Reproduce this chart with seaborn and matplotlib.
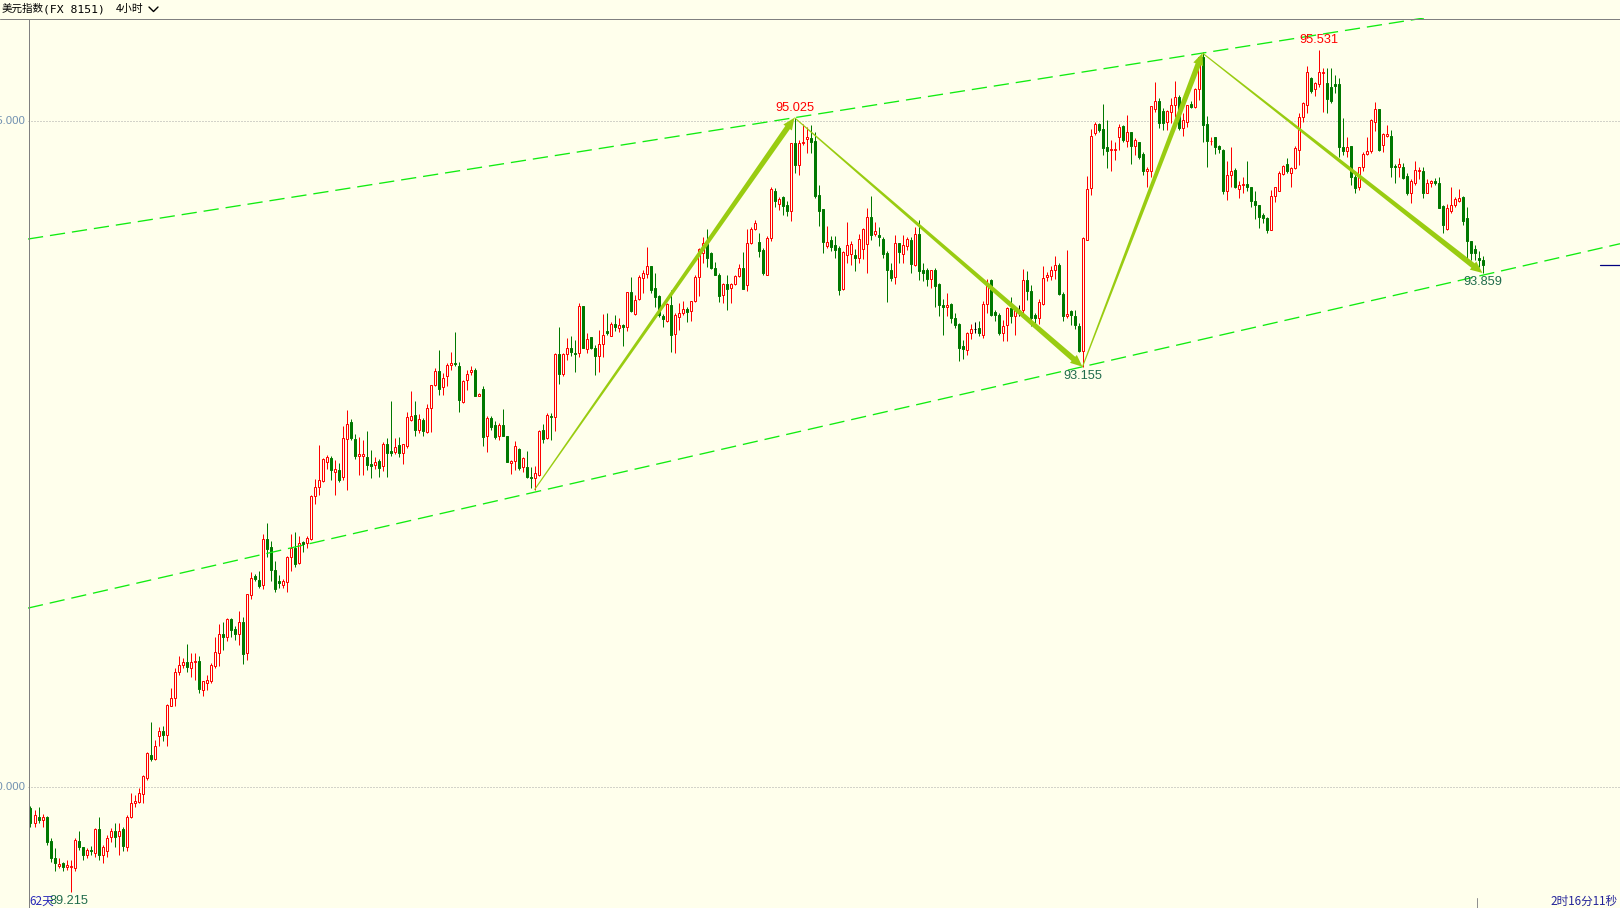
import matplotlib
matplotlib.use('Agg')
import matplotlib.pyplot as plt
import seaborn as sns

# 4-hour candles of the dollar index (oldest first)
opens = [
    89.840, 89.730, 89.778, 89.753, 89.773, 89.598, 89.470, 89.410, 89.430, 89.400,
    89.400, 89.390, 89.595, 89.548, 89.490, 89.528, 89.503, 89.686, 89.490, 89.523,
    89.628, 89.670, 89.633, 89.686, 89.548, 89.778, 89.883, 89.890, 89.948, 90.068,
    90.243, 90.213, 90.381, 90.418, 90.388, 90.611, 90.668, 90.861, 90.913, 90.938,
    90.893, 90.936, 90.943, 90.731, 90.781, 90.798, 90.911, 91.006, 91.151, 91.123,
    91.261, 91.188, 91.151, 91.238, 91.006, 91.443, 91.586, 91.551, 91.513, 91.861,
    91.801, 91.631, 91.543, 91.513, 91.538, 91.726, 91.793, 91.681, 91.838, 91.831,
    91.863, 92.181, 92.251, 92.301, 92.443, 92.468, 92.368, 92.381, 92.331, 92.611,
    92.738, 92.611, 92.486, 92.486, 92.476, 92.426, 92.421, 92.448, 92.413, 92.576,
    92.523, 92.518, 92.568, 92.506, 92.563, 92.756, 92.793, 92.681, 92.757, 92.664,
    92.844, 93.019, 93.124, 93.002, 93.082, 93.167, 93.182, 93.162, 92.887, 93.057,
    93.114, 93.132, 92.939, 92.989, 92.632, 92.772, 92.719, 92.632, 92.719, 92.637,
    92.432, 92.444, 92.539, 92.399, 92.402, 92.327, 92.319, 92.344, 92.682, 92.619,
    92.789, 92.777, 93.252, 93.102, 93.252, 93.294, 93.262, 93.262, 93.612, 93.289,
    93.377, 93.294, 93.232, 93.324, 93.424, 93.389, 93.477, 93.444, 93.469, 93.452,
    93.714, 93.552, 93.667, 93.819, 93.852, 93.912, 93.744, 93.687, 93.537, 93.502,
    93.619, 93.399, 93.527, 93.557, 93.592, 93.572, 93.649, 93.827, 94.007, 94.074,
    94.007, 93.894, 93.844, 93.694, 93.777, 93.744, 93.774, 93.837, 93.894, 93.769,
    94.082, 94.187, 94.089, 94.033, 93.841, 94.121, 94.471, 94.378, 94.428, 94.371,
    94.321, 94.833, 94.666, 94.833, 94.866, 94.876, 94.853, 94.446, 94.338, 94.058,
    94.103, 94.071, 94.046, 93.741, 93.996, 94.003, 93.996, 93.971, 94.041, 94.078,
    94.278, 94.153, 94.141, 94.113, 94.008, 93.883, 93.826, 94.083, 94.003, 94.063,
    94.108, 93.916, 94.151, 93.878, 93.878, 93.816, 93.883, 93.776, 93.616, 93.603,
    93.628, 93.521, 93.478, 93.308, 93.278, 93.408, 93.438, 93.443, 93.396, 93.628,
    93.808, 93.566, 93.546, 93.408, 93.471, 93.596, 93.533, 93.578, 93.578, 93.808,
    93.726, 93.546, 93.521, 93.628, 93.826, 93.833, 93.878, 93.921, 93.703, 93.533,
    93.571, 93.538, 93.463, 93.271, 94.108, 94.496, 94.908, 94.978, 94.938, 94.803,
    94.783, 94.783, 94.878, 94.963, 94.851, 94.916, 94.816, 94.841, 94.753, 94.621,
    94.621, 95.088, 95.151, 95.076, 94.991, 95.071, 95.121, 95.178, 94.946, 94.996,
    95.126, 95.108, 95.241, 95.478, 94.976, 94.848, 94.878, 94.813, 94.783, 94.471,
    94.596, 94.633, 94.488, 94.516, 94.528, 94.501, 94.403, 94.371, 94.296, 94.271,
    94.183, 94.438, 94.478, 94.601, 94.678, 94.613, 94.646, 94.783, 95.028, 95.121,
    95.326, 95.238, 95.278, 95.358, 95.283, 95.258, 95.278, 95.278, 94.803, 94.778,
    94.813, 94.583, 94.508, 94.651, 94.753, 94.778, 94.996, 95.091, 94.821, 94.888,
    94.891, 94.663, 94.658, 94.658, 94.588, 94.458, 94.533, 94.621, 94.628, 94.463,
    94.533, 94.551, 94.538, 94.363, 94.188, 94.328, 94.371, 94.396, 94.433, 94.271,
    94.096, 94.038, 93.971, 93.958,
]
highs = [
    89.860, 89.830, 89.853, 89.800, 89.780, 89.616, 89.540, 89.466, 89.440, 89.450,
    89.450, 89.620, 89.670, 89.553, 89.540, 89.558, 89.690, 89.773, 89.566, 89.640,
    89.690, 89.728, 89.728, 89.700, 89.790, 89.953, 89.940, 89.990, 90.090, 90.260,
    90.486, 90.351, 90.450, 90.456, 90.620, 90.743, 90.893, 90.986, 90.968, 91.076,
    91.006, 91.006, 90.981, 90.793, 90.843, 90.931, 91.126, 91.226, 91.238, 91.268,
    91.268, 91.211, 91.323, 91.278, 91.448, 91.613, 91.601, 91.623, 91.901, 91.981,
    91.846, 91.696, 91.593, 91.563, 91.736, 91.901, 91.913, 91.886, 91.848, 91.881,
    92.193, 92.311, 92.568, 92.468, 92.493, 92.488, 92.456, 92.431, 92.713, 92.831,
    92.763, 92.651, 92.631, 92.606, 92.673, 92.531, 92.476, 92.461, 92.593, 92.618,
    92.898, 92.618, 92.631, 92.576, 92.813, 92.973, 92.898, 92.798, 92.769, 92.877,
    93.019, 93.144, 93.282, 93.107, 93.182, 93.264, 93.417, 93.194, 93.057, 93.132,
    93.164, 93.144, 92.957, 93.007, 92.782, 92.782, 92.749, 92.732, 92.839, 92.637,
    92.457, 92.594, 92.544, 92.477, 92.524, 92.399, 92.407, 92.682, 92.727, 92.807,
    92.807, 93.257, 93.457, 93.257, 93.369, 93.387, 93.357, 93.632, 93.612, 93.407,
    93.377, 93.319, 93.432, 93.552, 93.557, 93.494, 93.544, 93.519, 93.477, 93.719,
    93.832, 93.694, 93.844, 93.882, 94.057, 93.912, 93.862, 93.694, 93.552, 93.632,
    93.732, 93.562, 93.632, 93.649, 93.602, 93.649, 93.844, 94.044, 94.127, 94.187,
    94.014, 93.944, 93.857, 93.787, 93.844, 93.782, 93.844, 93.927, 94.014, 94.187,
    94.202, 94.257, 94.157, 94.046, 94.138, 94.503, 94.496, 94.433, 94.438, 94.403,
    94.838, 95.025, 94.858, 94.978, 94.958, 94.971, 94.921, 94.521, 94.338, 94.208,
    94.138, 94.133, 94.058, 94.021, 94.241, 94.096, 94.041, 94.153, 94.196, 94.346,
    94.438, 94.241, 94.201, 94.128, 94.021, 93.933, 94.146, 94.083, 94.146, 94.126,
    94.128, 94.201, 94.258, 93.933, 93.896, 93.883, 93.896, 93.783, 93.663, 93.708,
    93.633, 93.558, 93.483, 93.353, 93.413, 93.478, 93.491, 93.501, 93.651, 93.816,
    93.813, 93.578, 93.558, 93.503, 93.603, 93.678, 93.603, 93.621, 93.888, 93.871,
    93.771, 93.558, 93.666, 93.908, 93.866, 93.913, 93.983, 93.933, 93.713, 94.033,
    93.578, 93.583, 93.483, 94.126, 94.588, 94.938, 94.996, 94.988, 95.128, 95.008,
    94.858, 94.846, 94.978, 94.971, 95.046, 94.921, 94.876, 94.846, 94.766, 94.658,
    95.113, 95.291, 95.176, 95.096, 95.083, 95.171, 95.303, 95.196, 95.058, 95.121,
    95.151, 95.251, 95.483, 95.521, 95.038, 94.883, 94.883, 94.821, 94.788, 94.696,
    94.803, 94.646, 94.546, 94.578, 94.696, 94.508, 94.471, 94.371, 94.313, 94.276,
    94.483, 94.508, 94.621, 94.671, 94.721, 94.658, 94.813, 95.058, 95.146, 95.413,
    95.333, 95.296, 95.531, 95.396, 95.396, 95.396, 95.346, 95.321, 95.021, 94.883,
    94.813, 94.621, 94.658, 94.771, 94.878, 95.013, 95.146, 95.091, 94.908, 94.971,
    94.933, 94.678, 94.721, 94.688, 94.608, 94.563, 94.703, 94.658, 94.658, 94.563,
    94.558, 94.571, 94.583, 94.371, 94.378, 94.508, 94.433, 94.488, 94.438, 94.358,
    94.101, 94.066, 94.021, 93.983,
]
lows = [
    89.700, 89.700, 89.728, 89.700, 89.566, 89.440, 89.366, 89.390, 89.370, 89.380,
    89.215, 89.370, 89.530, 89.453, 89.466, 89.490, 89.473, 89.453, 89.428, 89.478,
    89.590, 89.553, 89.490, 89.516, 89.516, 89.766, 89.853, 89.878, 89.878, 90.056,
    90.193, 90.206, 90.306, 90.343, 90.306, 90.606, 90.611, 90.843, 90.891, 90.866,
    90.823, 90.806, 90.706, 90.686, 90.731, 90.781, 90.891, 90.911, 91.026, 91.093,
    91.126, 91.101, 91.063, 90.926, 90.951, 91.411, 91.543, 91.493, 91.488, 91.726,
    91.548, 91.466, 91.493, 91.493, 91.461, 91.618, 91.648, 91.676, 91.768, 91.793,
    91.851, 92.126, 92.193, 92.293, 92.386, 92.306, 92.193, 92.293, 92.306, 92.226,
    92.606, 92.463, 92.343, 92.343, 92.381, 92.323, 92.386, 92.331, 92.376, 92.331,
    92.486, 92.501, 92.481, 92.426, 92.548, 92.751, 92.636, 92.661, 92.632, 92.657,
    92.662, 93.014, 92.944, 92.944, 93.014, 93.132, 93.157, 92.819, 92.882, 92.982,
    93.094, 92.932, 92.932, 92.557, 92.514, 92.682, 92.614, 92.607, 92.632, 92.439,
    92.352, 92.382, 92.382, 92.364, 92.319, 92.244, 92.232, 92.337, 92.582, 92.614,
    92.607, 92.669, 93.024, 93.082, 93.207, 93.237, 93.112, 93.227, 93.294, 93.257,
    93.289, 93.094, 93.119, 93.227, 93.394, 93.387, 93.424, 93.419, 93.314, 93.427,
    93.569, 93.544, 93.657, 93.707, 93.819, 93.707, 93.607, 93.532, 93.452, 93.494,
    93.269, 93.262, 93.432, 93.544, 93.494, 93.502, 93.644, 93.687, 93.932, 93.907,
    93.887, 93.844, 93.644, 93.637, 93.582, 93.632, 93.769, 93.832, 93.739, 93.727,
    94.077, 94.182, 93.982, 93.846, 93.841, 94.096, 94.358, 94.333, 94.296, 94.288,
    94.253, 94.608, 94.591, 94.821, 94.758, 94.758, 94.421, 94.208, 94.008, 94.046,
    94.021, 93.971, 93.696, 93.733, 93.933, 93.921, 93.871, 93.933, 93.963, 93.858,
    94.108, 94.133, 94.058, 93.971, 93.641, 93.796, 93.776, 93.933, 93.933, 94.033,
    93.858, 93.908, 93.808, 93.796, 93.758, 93.746, 93.603, 93.533, 93.396, 93.533,
    93.483, 93.446, 93.196, 93.213, 93.246, 93.366, 93.408, 93.388, 93.371, 93.558,
    93.533, 93.496, 93.391, 93.346, 93.346, 93.483, 93.396, 93.533, 93.546, 93.658,
    93.458, 93.483, 93.478, 93.621, 93.796, 93.808, 93.813, 93.696, 93.496, 93.521,
    93.471, 93.438, 93.266, 93.155, 94.108, 94.446, 94.896, 94.921, 94.741, 94.646,
    94.628, 94.708, 94.783, 94.846, 94.808, 94.678, 94.746, 94.716, 94.596, 94.508,
    94.578, 95.071, 94.946, 94.933, 94.933, 94.983, 95.028, 94.933, 94.891, 94.953,
    95.101, 95.096, 95.158, 94.846, 94.651, 94.821, 94.751, 94.763, 94.453, 94.408,
    94.508, 94.496, 94.421, 94.458, 94.471, 94.358, 94.266, 94.196, 94.233, 94.158,
    94.183, 94.391, 94.476, 94.596, 94.613, 94.508, 94.641, 94.671, 94.996, 95.063,
    95.208, 95.191, 95.258, 95.071, 95.063, 95.133, 95.208, 94.733, 94.746, 94.733,
    94.521, 94.458, 94.483, 94.621, 94.746, 94.758, 94.928, 94.776, 94.771, 94.883,
    94.583, 94.538, 94.578, 94.563, 94.446, 94.383, 94.521, 94.563, 94.421, 94.458,
    94.508, 94.521, 94.346, 94.158, 94.183, 94.308, 94.358, 94.391, 94.221, 93.946,
    93.958, 93.953, 93.903, 93.859,
]
closes = [
    89.730, 89.790, 89.753, 89.778, 89.590, 89.466, 89.428, 89.420, 89.400, 89.415,
    89.410, 89.600, 89.548, 89.490, 89.528, 89.516, 89.686, 89.490, 89.548, 89.616,
    89.673, 89.623, 89.673, 89.558, 89.778, 89.878, 89.895, 89.953, 90.083, 90.256,
    90.213, 90.311, 90.418, 90.393, 90.618, 90.668, 90.863, 90.918, 90.938, 90.901,
    90.938, 90.948, 90.738, 90.793, 90.806, 90.918, 91.013, 91.151, 91.123, 91.261,
    91.176, 91.148, 91.238, 91.001, 91.448, 91.568, 91.561, 91.506, 91.861, 91.788,
    91.626, 91.488, 91.531, 91.543, 91.726, 91.793, 91.676, 91.831, 91.823, 91.868,
    92.186, 92.251, 92.306, 92.461, 92.476, 92.381, 92.388, 92.306, 92.618, 92.726,
    92.618, 92.488, 92.501, 92.501, 92.421, 92.411, 92.441, 92.398, 92.573, 92.511,
    92.506, 92.551, 92.506, 92.573, 92.776, 92.786, 92.681, 92.763, 92.669, 92.844,
    93.019, 93.124, 92.987, 93.069, 93.169, 93.182, 93.172, 92.902, 93.047, 93.099,
    93.132, 92.939, 92.952, 92.627, 92.769, 92.702, 92.627, 92.719, 92.637, 92.439,
    92.447, 92.557, 92.394, 92.469, 92.327, 92.319, 92.357, 92.669, 92.614, 92.794,
    92.777, 93.252, 93.102, 93.252, 93.294, 93.269, 93.252, 93.612, 93.299, 93.364,
    93.294, 93.239, 93.324, 93.394, 93.407, 93.477, 93.452, 93.467, 93.452, 93.714,
    93.577, 93.657, 93.832, 93.857, 93.912, 93.732, 93.682, 93.544, 93.517, 93.624,
    93.394, 93.544, 93.562, 93.587, 93.569, 93.649, 93.832, 94.037, 94.082, 93.969,
    93.894, 93.844, 93.689, 93.777, 93.739, 93.777, 93.837, 93.894, 93.739, 94.082,
    94.187, 94.237, 94.027, 93.858, 94.121, 94.491, 94.396, 94.413, 94.363, 94.328,
    94.833, 94.666, 94.838, 94.846, 94.878, 94.846, 94.438, 94.328, 94.088, 94.088,
    94.051, 94.028, 93.728, 94.016, 94.066, 94.076, 93.971, 94.113, 94.191, 94.278,
    94.146, 94.176, 94.128, 93.998, 93.883, 93.821, 94.083, 94.013, 94.066, 94.113,
    93.928, 94.151, 93.871, 93.858, 93.816, 93.878, 93.758, 93.616, 93.603, 93.621,
    93.521, 93.471, 93.296, 93.288, 93.408, 93.441, 93.438, 93.408, 93.628, 93.766,
    93.546, 93.546, 93.408, 93.463, 93.596, 93.533, 93.578, 93.578, 93.808, 93.726,
    93.521, 93.521, 93.641, 93.821, 93.841, 93.878, 93.921, 93.701, 93.533, 93.553,
    93.546, 93.471, 93.271, 94.121, 94.488, 94.891, 94.976, 94.933, 94.801, 94.778,
    94.788, 94.788, 94.958, 94.858, 94.916, 94.813, 94.858, 94.733, 94.621, 94.638,
    95.113, 95.151, 94.983, 94.983, 95.076, 95.118, 95.178, 94.946, 95.008, 95.118,
    95.108, 95.238, 95.478, 94.971, 94.853, 94.853, 94.803, 94.788, 94.471, 94.596,
    94.621, 94.508, 94.521, 94.526, 94.501, 94.403, 94.366, 94.278, 94.271, 94.183,
    94.438, 94.503, 94.613, 94.663, 94.628, 94.648, 94.801, 95.033, 95.133, 95.366,
    95.226, 95.283, 95.366, 95.371, 95.163, 95.153, 95.266, 94.803, 94.778, 94.803,
    94.583, 94.496, 94.651, 94.753, 94.778, 95.008, 95.091, 94.783, 94.901, 94.901,
    94.658, 94.651, 94.676, 94.571, 94.458, 94.546, 94.633, 94.633, 94.463, 94.538,
    94.546, 94.538, 94.346, 94.221, 94.346, 94.371, 94.413, 94.421, 94.253, 94.096,
    94.008, 94.008, 93.953, 93.916,
]

# swing points joined by the arrows: (bar, price)
swing_bars = [126, 191, 263, 293, 363]
swing_prices = [92.232, 95.025, 93.155, 95.510, 93.859]

# channel lines, two anchor points each
upper_anchor = [(191, 95.025), (293, 95.51)]
lower_anchor = [(125.5, 92.21), (263, 93.155)]

# labelled extremes
high_marks = [191, 322]
low_marks = [10, 263, 363]

BG = '#FFFFEC'
RED = '#FF0000'
GREEN = '#007800'
W, H = 1620, 908
PX0, PXW = 30.5, 4.0      # pixel x of bar 0, pixel step per bar
PY95, PYS = 121.0, 133.2  # pixel y of 95.000, pixels per index point

sns.set_theme(style='white')
plt.rcParams['font.family'] = ['Noto Sans CJK SC', 'DejaVu Sans']
plt.rcParams['lines.scale_dashes'] = False


def px(i, p):
    return PX0 + PXW * i, PY95 + (95 - p) * PYS


def to_data(x, y):
    return (x - PX0) / PXW, 95 - (y - PY95) / PYS


def ftext(x, y, s, **kw):
    fig.text(x / W, 1 - y / H, s, **kw)


def fline(xs, ys, **kw):
    fig.add_artist(plt.Line2D([x / W for x in xs], [1 - y / H for y in ys], **kw))


fig = plt.figure(figsize=(W / 100, H / 100), dpi=100, facecolor=BG)
ax = fig.add_axes([28 / W, 0, 1 - 28 / W, 1 - 18 / H])
ax.set_facecolor(BG)
ax.set_xlim(to_data(28, 0)[0], to_data(W, 0)[0])
ax.set_ylim(to_data(0, H)[1], to_data(0, 18)[1])
ax.axis('off')

# dotted price grid
for lvl in [95, 90]:
    ax.axhline(lvl, color='#A8A8A8', lw=0.72, linestyle=(0, (0.72, 1.44)), zorder=1)

# candles
n = len(closes)
xs = list(range(n))
cols = []
for o, c in zip(opens, closes):
    cols.append(RED if c > o else (GREEN if c < o else 'black'))
ax.vlines(xs, lows, highs, colors=cols, lw=0.72, zorder=3)
for i in range(n):
    o, c = opens[i], closes[i]
    bot = min(o, c)
    hgt = max(abs(c - o), 0.5 / PYS)
    face = BG if cols[i] == RED else cols[i]
    ax.bar(i, hgt, bottom=bot, width=0.5, facecolor=face, edgecolor=cols[i],
           linewidth=0.72, zorder=4)

# channel lines
for (a, b) in [upper_anchor, lower_anchor]:
    ax.axline(a, b, color='#10EC10', lw=0.95, linestyle=(0, (11, 5)), zorder=5)


def taper_arrow(i0, p0, i1, p1, color='#99CC11'):
    x0, y0 = px(i0, p0)
    x1, y1 = px(i1, p1)
    L = ((x1 - x0) ** 2 + (y1 - y0) ** 2) ** 0.5
    dx, dy = (x1 - x0) / L, (y1 - y0) / L
    nx, ny = -dy, dx
    head = 12.0
    bx, by = x1 - dx * head, y1 - dy * head
    pts = [(x0 + nx * 0.55, y0 + ny * 0.55), (bx + nx * 2.8, by + ny * 2.8),
           (bx + nx * 5.2, by + ny * 5.2), (x1, y1),
           (bx - nx * 5.2, by - ny * 5.2), (bx - nx * 2.8, by - ny * 2.8),
           (x0 - nx * 0.55, y0 - ny * 0.55)]
    dpts = [to_data(x, y) for x, y in pts]
    ax.fill([q[0] for q in dpts], [q[1] for q in dpts], color=color, lw=0, zorder=6)


for k in range(len(swing_bars) - 1):
    taper_arrow(swing_bars[k], swing_prices[k], swing_bars[k + 1], swing_prices[k + 1])

# extreme labels
num_font = ['Liberation Sans', 'DejaVu Sans']
for i in high_marks:
    x, y = px(i, highs[i])
    ftext(x, y - 4, '%.3f' % highs[i], color=RED, fontsize=9.2, family=num_font,
          ha='center', va='bottom')
for i in low_marks:
    x, y = px(i, lows[i])
    ftext(x - 2 if i == 10 else x, y + 3.5, '%.3f' % lows[i], color='#1F6B4B', fontsize=9.2,
          family=num_font, ha='center', va='top')

# frame lines
fline([0, W], [18.5, 18.5], color='#808080', lw=0.72)
fline([28.5, 28.5], [18.5, H], color='#808080', lw=0.72)
fline([1476.5, 1476.5], [898, H], color='#909090', lw=0.72)
last_y = px(0, closes[-1])[1]
fline([1600, W], [last_y, last_y], color='#000080', lw=0.9)

# price axis labels, clipped by the left edge
for lvl in [95, 90]:
    ftext(25.5, px(0, lvl)[1], '%.3f' % lvl, color='#7090B0', fontsize=8.2,
          family=num_font, ha='right', va='center')

# title bar
ftext(2, 9, '美元指数', fontsize=7.6, color='black', va='center')
ftext(43, 9, '(FX 8151)', fontsize=8.2, color='black', va='center', family=['DejaVu Sans Mono'])
ftext(116, 9, '4小时', fontsize=7.8, color='black', va='center')
fline([149, 153.5, 158], [7, 11.5, 7], color='black', lw=1.0)

# bottom status texts
ftext(29, 901, '62天', fontsize=8.4, color='#2828B8', va='center')
ftext(1618, 901, '2时16分11秒', fontsize=8.4, color='#24249A', va='center', ha='right')

fig.savefig('out.png', dpi=100, facecolor=BG)
